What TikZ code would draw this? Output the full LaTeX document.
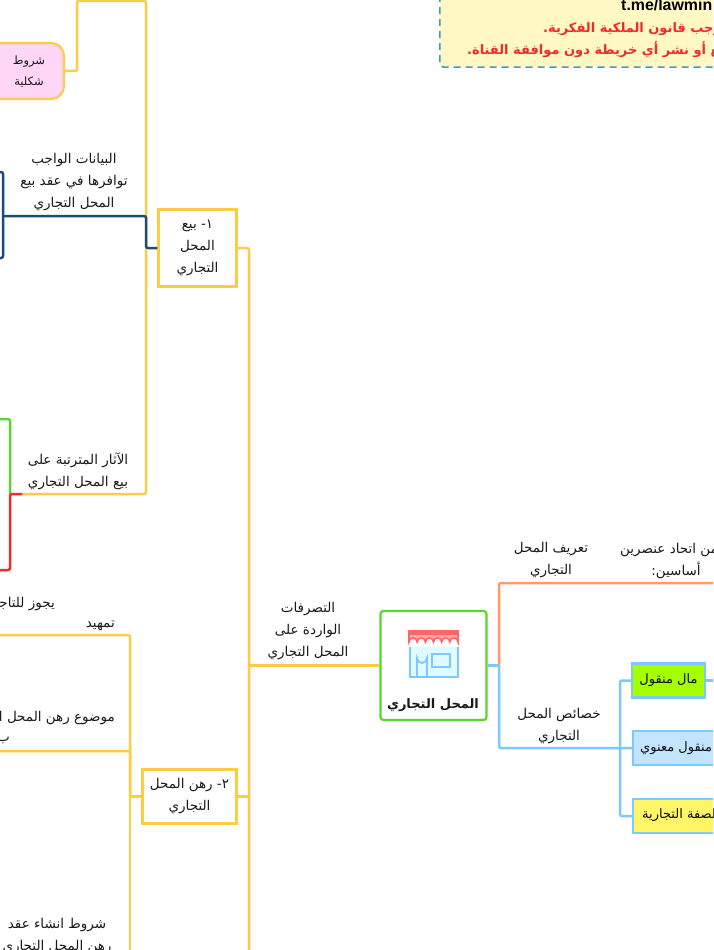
\documentclass[tikz,border=0pt]{standalone}
\usepackage{fontspec}
\setmainfont{Liberation Sans}
\newfontfamily\arfont[Script=Arabic]{DejaVu Sans}
\TeXXeTstate=1
\usepackage{tikz}
\definecolor{lineyellow}{HTML}{FFCB45}
\definecolor{lineorange}{HTML}{FF9C66}
\definecolor{lineblue}{HTML}{7CC8FF}
\definecolor{linegreen}{HTML}{55D72D}
\definecolor{linenavy}{HTML}{1B4B7A}
\definecolor{linered}{HTML}{F02B2B}
\definecolor{dashblue}{HTML}{3C9AC8}
\definecolor{noticefill}{HTML}{FFF8C2}
\definecolor{formsfill}{HTML}{FFD6F5}
\definecolor{movfill}{HTML}{A6FF00}
\definecolor{intangfill}{HTML}{C2E4FF}
\definecolor{traitsfill}{HTML}{FFF566}
\newcommand{\ar}[1]{\beginR #1\endR}
\tikzset{
  lab/.style = {inner sep=0pt, align=center, text=black!90, font=\arfont\fontsize{13.5}{22}\selectfont},
  redlab/.style = {inner sep=0pt, anchor=west, text=linered, font=\arfont\bfseries\fontsize{13}{21}\selectfont},
  branch/.style = {draw=lineyellow, line width=2.2pt, fill=white, inner sep=0pt, align=center, text=black!90, font=\arfont\fontsize{13.5}{22}\selectfont},
  tag/.style = {draw=lineblue, line width=2.2pt, inner sep=0pt, text=black!95, font=\arfont\fontsize{13}{16}\selectfont},
  link/.style = {line width=2.5pt, rounded corners=2pt}
}
\begin{document}
\begin{tikzpicture}[x=1pt, y=-1pt]

\useasboundingbox (0,0) rectangle (713,950);
\clip (0,0) rectangle (713,950);

% main box and branches
\node (shop) [draw=linegreen, line width=2.2pt, rounded corners=3pt, fill=white, minimum width=106pt, minimum height=109pt] at (433.5,665.5) {};
\node (shoplab) [lab, font=\arfont\bfseries\fontsize{13}{22}\selectfont] at (433,705) {\ar{المحل التجاري}};
\node (sale) [branch, minimum width=78pt, minimum height=77pt] at (197.5,248) {\ar{١- بيع}\\\ar{المحل}\\\ar{التجاري}};
\node (pledge) [branch, minimum width=94pt, minimum height=54pt] at (189.5,796.5) {\ar{٢- رهن المحل}\\\ar{التجاري}};
\node (forms) [draw=lineyellow, line width=2.2pt, rounded corners=13pt, fill=formsfill, minimum width=84pt, minimum height=56pt, inner sep=0pt] at (22,71) {};
\node (formslab) [lab, font=\arfont\fontsize{11.5}{21}\selectfont] at (29,71) {\ar{شروط}\\\ar{شكلية}};

% top notice
\node (notice) [draw=dashblue, dash pattern=on 7pt off 5pt, line width=1.6pt, rounded corners=4pt, fill=noticefill, minimum width=300pt, minimum height=90pt, anchor=south west] at (439,68) {};
\node (link) [inner sep=0pt, anchor=west, font=\bfseries\fontsize{15.9}{18}\selectfont] at (621,5) {t.me/lawmin};
\node (copyr) [redlab] at (543,29.5) {\ar{بموجب قانون الملكية الفكرية.}};
\node (rights) [redlab] at (467,50) {\ar{طبع أو نشر أي خريطة دون موافقة القناة.}};

% free ends and elbows
\coordinate (sp) at (249,665.5);
\coordinate (spb) at (249,950);
\coordinate (gl) at (146,248);
\coordinate (gt) at (146,1);
\coordinate (gu) at (77,1);
\coordinate (navy) at (3,216);
\coordinate (navyt) at (0,172);
\coordinate (navyb) at (0,258);
\coordinate (rest) at (22,494);
\coordinate (fork) at (10,494);
\coordinate (greenend) at (0,419);
\coordinate (redend) at (0,570);
\coordinate (hl) at (130,796.5);
\coordinate (intro) at (0,635);
\coordinate (subject) at (0,751);
\coordinate (hb) at (130,950);
\coordinate (rj) at (499,665.5);
\coordinate (defend) at (713,583);
\coordinate (trait) at (620,748);
\coordinate (out) at (713,680.5);

% left side
\draw[link, lineyellow] (shop.west) -- (sp);
\draw[link, lineyellow] (sale.east) -| (sp) -- (spb);
\draw[link, lineyellow] (pledge.east) -- (249,796.5);
\draw[link, lineyellow] (gl) -- (gt) -- (gu) |- (forms.east);
\draw[link, lineyellow] (gl) |- (rest);
\draw[link, linenavy] (sale.west) -| (146,216) -- (navy);
\draw[link, linenavy] (navyt) -| (navy) |- (navyb);
\draw[link, linegreen] (fork) |- (greenend);
\draw[link, linered] (rest) -- (fork) |- (redend);
\draw[link, lineyellow] (pledge.west) -- (hl);
\draw[link, lineyellow] (hl) |- (intro);
\draw[link, lineyellow] (hl) |- (subject);
\draw[link, lineyellow] (hl) -- (hb);

% right side
\node (mov) [tag, fill=movfill, minimum width=73pt, minimum height=34pt] at (668.5,680.5) {\ar{مال منقول}};
\node (intang) [tag, fill=intangfill, minimum width=110pt, minimum height=34pt, anchor=west] at (632,748) {};
\node (traits) [tag, fill=traitsfill, minimum width=110pt, minimum height=34pt, anchor=west] at (632,816) {};
\node (intanglab) [inner sep=0pt, anchor=west, text=black!95, font=\arfont\fontsize{13}{16}\selectfont] at (640,748) {\ar{مال منقول معنوي}};
\node (traitslab) [inner sep=0pt, anchor=west, text=black!95, font=\arfont\fontsize{13}{16}\selectfont] at (642,815) {\ar{الصفة التجارية}};
\draw[link, lineblue] (shop.east) -- (rj);
\draw[link, lineorange] (rj) |- (defend);
\draw[link, lineblue] (rj) |- (intang.west);
\draw[link, lineblue] (mov.west) -| (trait) |- (traits.west);
\draw[link, lineblue] (mov.east) -- (out);

% labels on the branches
\node (lab1) [lab] at (308,631.5) {\ar{التصرفات}\\\ar{الواردة على}\\\ar{المحل التجاري}};
\node (lab2) [lab] at (74,182) {\ar{البيانات الواجب}\\\ar{توافرها في عقد بيع}\\\ar{المحل التجاري}};
\node (lab3) [lab] at (78,471) {\ar{الآثار المترتبة على}\\\ar{بيع المحل التجاري}};
\node (lab4) [lab, anchor=east] at (55,604) {\ar{يجوز للتاجر}};
\node (lab5) [lab, anchor=east] at (115,626) {\ar{تمهيد}};
\node (lab6) [lab, anchor=east] at (115,718) {\ar{موضوع رهن المحل التجاري}};
\node (lab7) [lab, anchor=west] at (-3,740) {\ar{ب}};
\node (lab8) [lab] at (57,936) {\ar{شروط انشاء عقد}\\\ar{رهن المحل التجاري}};
\node (lab9) [lab] at (551,560.5) {\ar{تعريف المحل}\\\ar{التجاري}};
\node (lab10) [lab, anchor=west] at (620,550) {\ar{من اتحاد عنصرين}};
\node (lab11) [lab] at (676,570) {\ar{أساسين:}};
\node (lab12) [lab] at (559,726) {\ar{خصائص المحل}\\\ar{التجاري}};

% shop icon
\fill[blue!12!cyan!12] (410,647) rectangle (458,677);
\draw[lineblue, line width=1.8pt] (410,647) -- (410,677) -- (458,677) -- (458,647);
\draw[lineblue, line width=1.8pt] (417,677) -- (417,658) arc (180:0:5) -- (427,677);
\draw[lineblue, line width=1.8pt] (432,654) rectangle (450,667);
\fill[red!35] (409,631) -- (458,631) -- (458,642) arc (0:-180:4.08) arc (0:-180:4.08) arc (0:-180:4.08) arc (0:-180:4.08) arc (0:-180:4.08) arc (0:-180:4.08) -- cycle;
\draw[red!60!white, line width=1.6pt] (409,631) -- (458,631) -- (458,642) arc (0:-180:4.08) arc (0:-180:4.08) arc (0:-180:4.08) arc (0:-180:4.08) arc (0:-180:4.08) arc (0:-180:4.08) -- cycle;
\fill[red!60!white] (409,631) rectangle (458,635);

\end{tikzpicture}
\end{document}
